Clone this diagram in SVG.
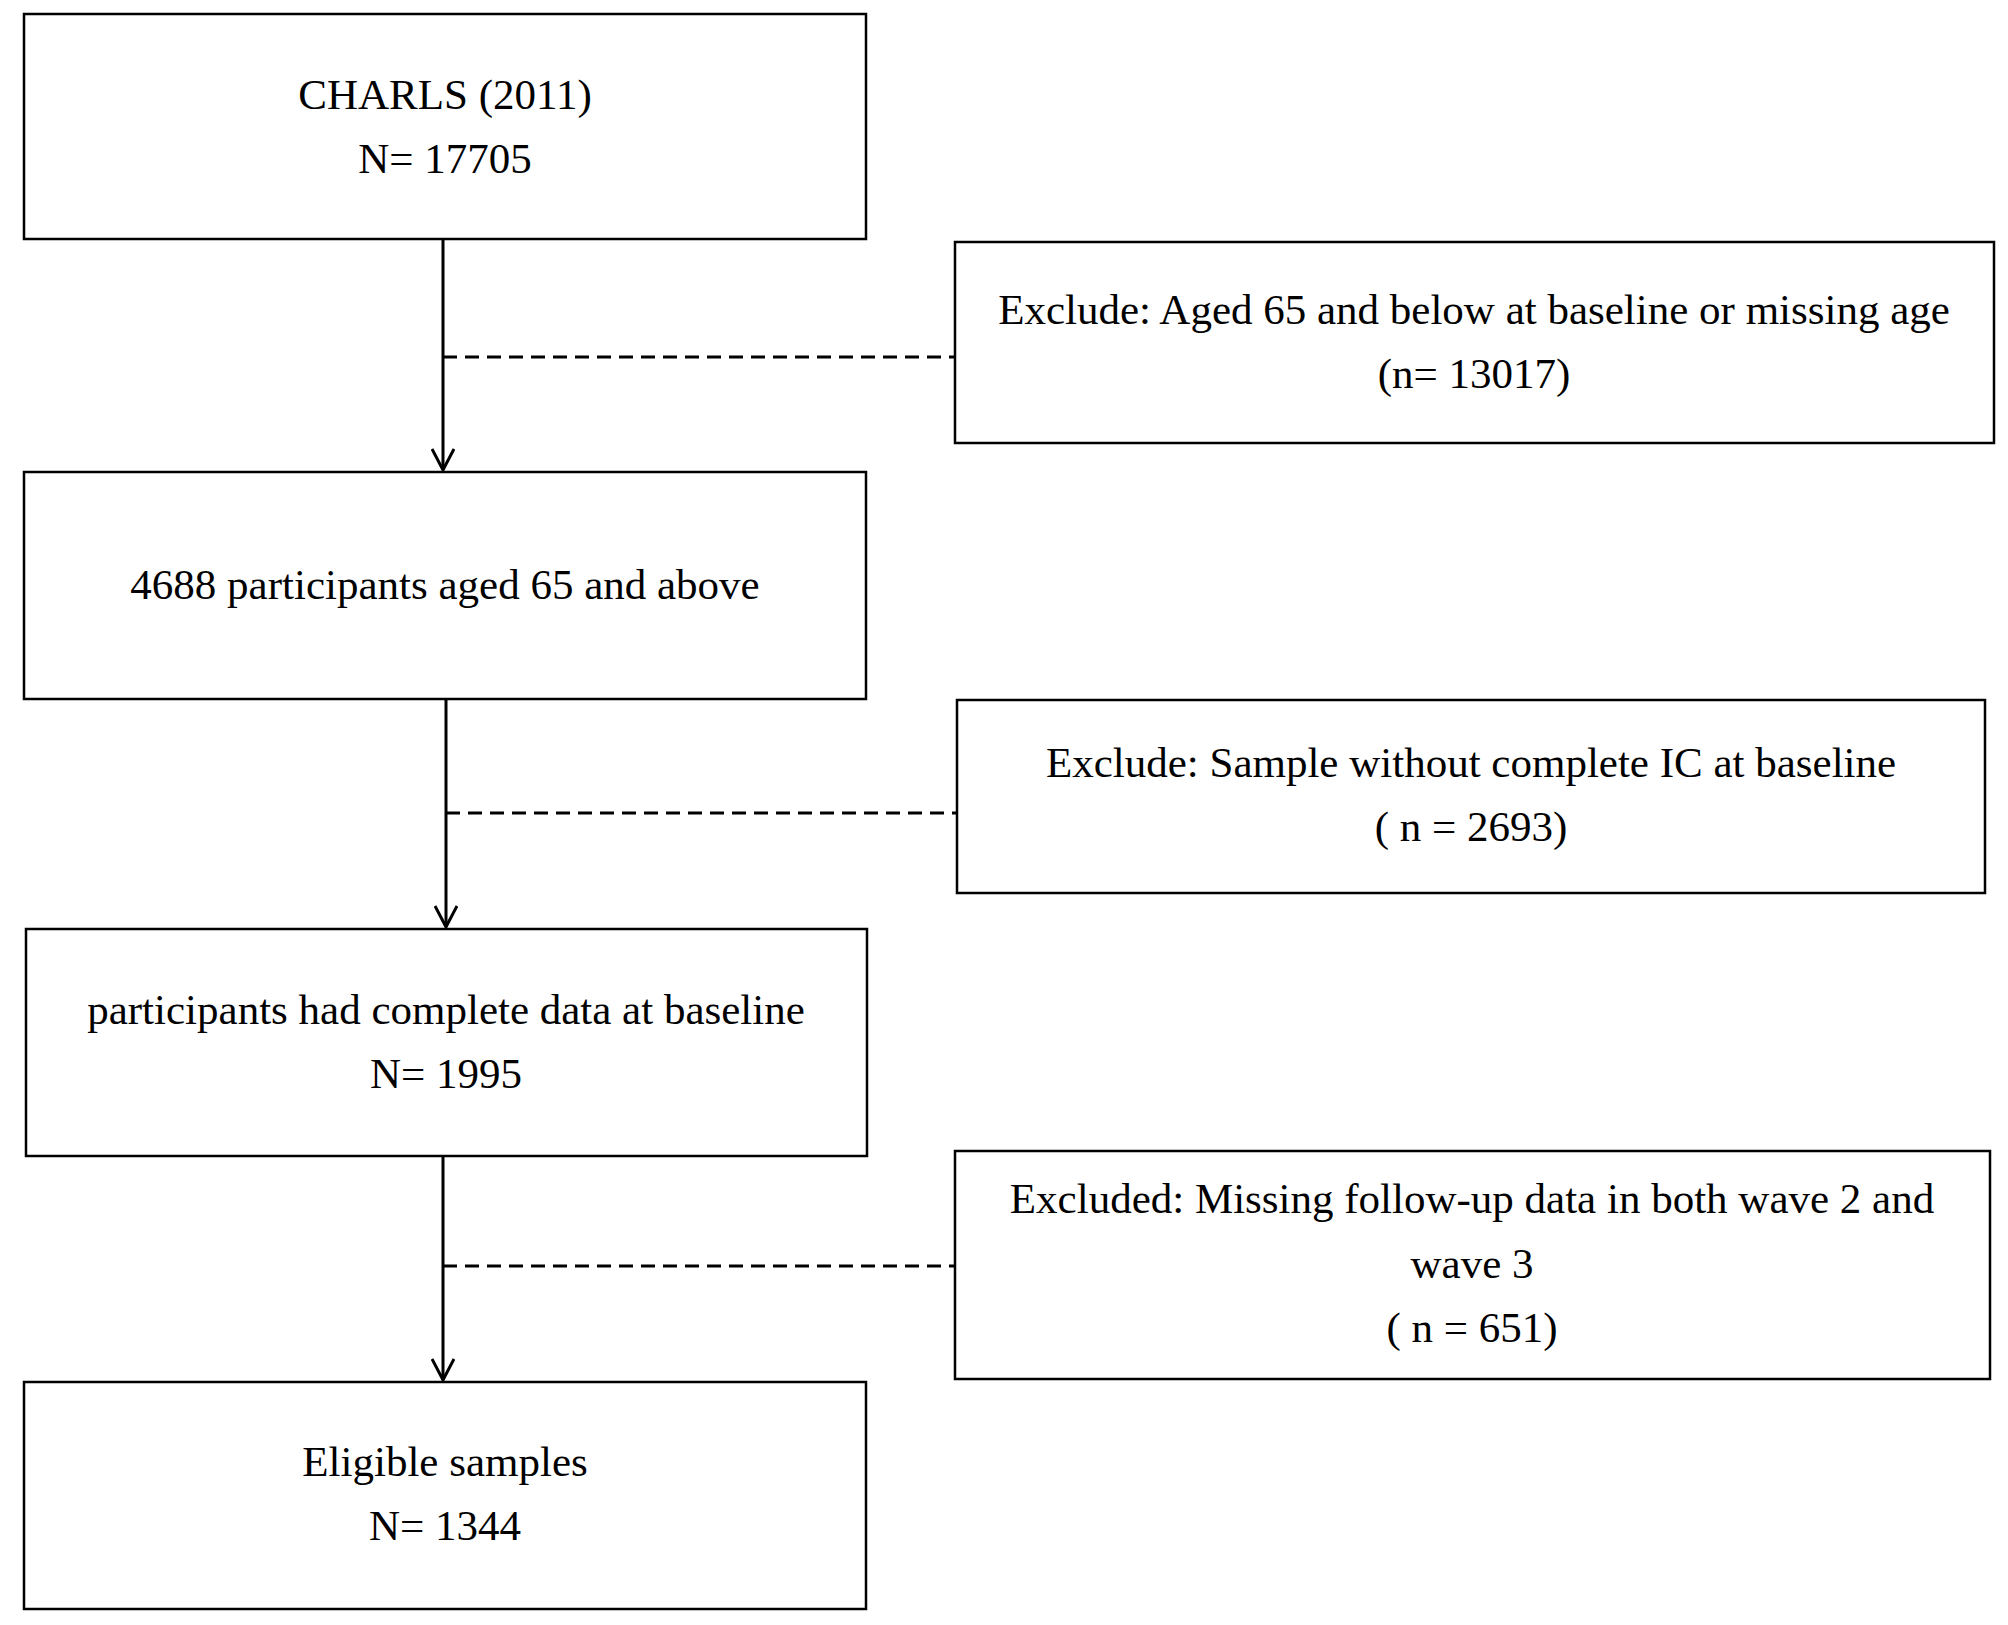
<svg xmlns="http://www.w3.org/2000/svg" width="2008" height="1625" viewBox="0 0 2008 1625">
<defs><style>
.b{fill:#fff;stroke:#000;stroke-width:2.5}
text{font-family:"Liberation Serif",serif;font-size:43px;text-anchor:middle;fill:#000}
.a{stroke:#000;stroke-width:3;fill:none}
.d{stroke:#000;stroke-width:3;stroke-dasharray:14 8;fill:none}
</style>
<marker id="m" markerWidth="24" markerHeight="24" refX="22" refY="12" orient="auto" markerUnits="userSpaceOnUse" viewBox="0 0 24 24"><path d="M1 1 L22 12 L1 23" fill="none" stroke="#000" stroke-width="3"/></marker>
</defs>
<rect width="2008" height="1625" fill="#fff"/>
<g id="connectors">
<path class="a" d="M443 239 V470" marker-end="url(#m)"/>
<path class="d" d="M443 357 H955"/>
<path class="a" d="M446 699 V927" marker-end="url(#m)"/>
<path class="d" d="M446 813 H957"/>
<path class="a" d="M443 1156 V1380" marker-end="url(#m)"/>
<path class="d" d="M443 1266 H955"/>
</g>
<g id="n1"><rect class="b" x="24" y="14" width="842" height="225"/><text x="445" y="109">CHARLS (2011)</text><text x="445" y="173">N= 17705</text></g>
<g id="e1"><rect class="b" x="955" y="242" width="1039" height="201"/><text x="1474" y="324">Exclude: Aged 65 and below at baseline or missing age</text><text x="1474" y="388">(n= 13017)</text></g>
<g id="n2"><rect class="b" x="24" y="472" width="842" height="227"/><text x="445" y="599">4688 participants aged 65 and above</text></g>
<g id="e2"><rect class="b" x="957" y="700" width="1028" height="193"/><text x="1471" y="777">Exclude: Sample without complete IC at baseline</text><text x="1471" y="841">( n = 2693)</text></g>
<g id="n3"><rect class="b" x="26" y="929" width="841" height="227"/><text x="446" y="1024">participants had complete data at baseline</text><text x="446" y="1088">N= 1995</text></g>
<g id="e3"><rect class="b" x="955" y="1151" width="1035" height="228"/><text x="1472" y="1213">Excluded: Missing follow-up data in both wave 2 and</text><text x="1472" y="1278">wave 3</text><text x="1472" y="1342">( n = 651)</text></g>
<g id="n4"><rect class="b" x="24" y="1382" width="842" height="227"/><text x="445" y="1476">Eligible samples</text><text x="445" y="1540">N= 1344</text></g>
</svg>
